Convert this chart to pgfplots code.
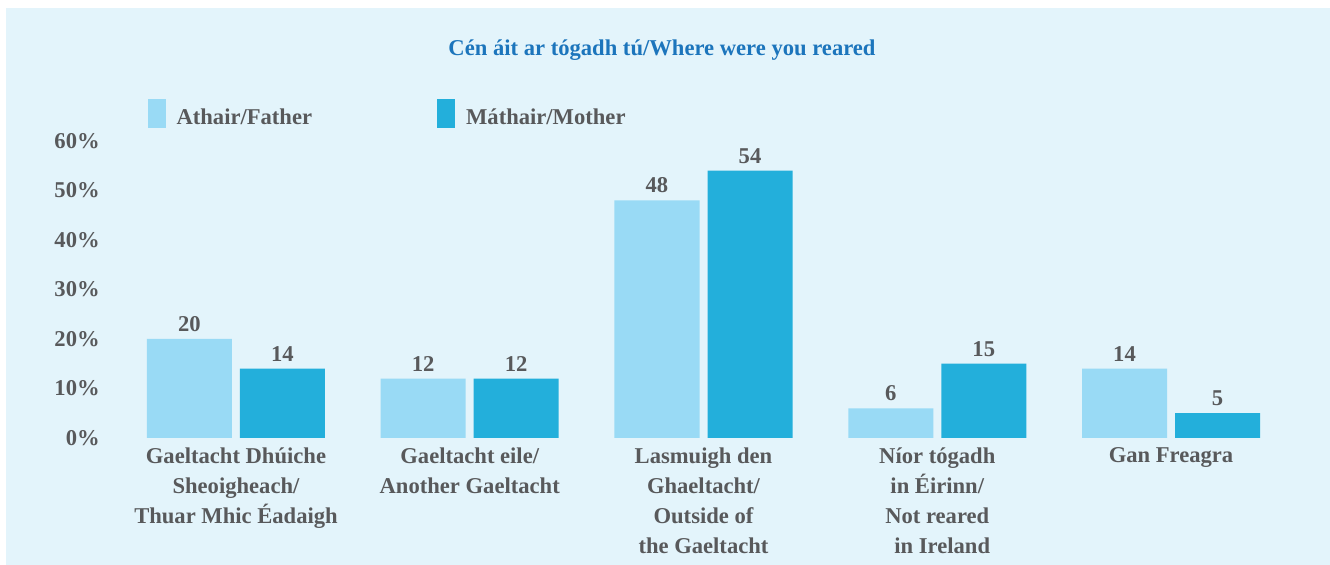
\documentclass[border=0pt]{standalone}
\usepackage{fontspec}
\setmainfont{Liberation Serif}
\usepackage{pgfplots}
\pgfplotsset{compat=1.18}
\definecolor{bg}{HTML}{E3F4FB}
\definecolor{light}{HTML}{99DAF5}
\definecolor{dark}{HTML}{23AFDB}
\definecolor{txt}{HTML}{58595B}
\definecolor{ttl}{HTML}{1C75BC}
\newcommand\cf{\fontsize{11.3}{15}\selectfont\bfseries}
\begin{document}
\begin{tikzpicture}[x=1pt,y=1pt]
\fill[white] (0,0) rectangle (665,282.5);
\fill[bg] (3,0) rectangle (665,278.5);
\node[font=\cf, text=ttl] at (331,257.5) {Cén áit ar tógadh tú/Where were you reared};
\begin{axis}[
  at={(59.55pt,63.5pt)}, anchor=south west,
  scale only axis, width=584.4pt, height=148.5pt,
  xmin=-0.5, xmax=4.5, ymin=0, ymax=60,
  axis line style={draw=none}, major tick length=0pt,
  /pgf/number format/assume math mode=true,
  ytick={0,10,...,60}, yticklabels={0\%,10\%,20\%,30\%,40\%,50\%,60\%},
  xtick={0,...,4},
  xticklabels={{Gaeltacht Dhúiche\\Sheoigheach/\\Thuar Mhic Éadaigh},
               {Gaeltacht eile/\\Another Gaeltacht},
               {Lasmuigh den\\Ghaeltacht/\\Outside of\\the Gaeltacht},
               {Níor tógadh\\in Éirinn/\\Not reared\\\hspace*{5pt}in Ireland},
               {Gan Freagra}},
  tick label style={font=\cf, text=txt, inner sep=0pt},
  yticklabel style={anchor=east, xshift=-9.5pt},
  xticklabel style={anchor=north, align=center, yshift=-4.5pt},
  ybar, bar width=42.5pt,
  nodes near coords,
  every node near coord/.append style={font=\cf, text=txt, inner sep=0pt, anchor=south, yshift=3.5pt},
  legend style={at={(0.024,1.086)}, anchor=west, draw=none, fill=none, inner sep=0pt,
    font=\cf, text=txt, legend columns=2,
    /tikz/every odd column/.append style={column sep=3.5pt},
    /tikz/every even column/.append style={column sep=60.5pt}},
  legend cell align=left,
]
\addplot[fill=light, draw=none, bar shift=-23.25pt,
  legend image code/.code={\fill[light] (0pt,-4.75pt) rectangle (9pt,9.75pt);}]
  coordinates {(0,20) (1,12) (2,48) (3,6) (4,14)};
\addplot[fill=dark, draw=none, bar shift=23.25pt,
  legend image code/.code={\fill[dark] (0pt,-4.75pt) rectangle (9pt,9.75pt);}]
  coordinates {(0,14) (1,12) (2,54) (3,15) (4,5)};
\legend{Athair/Father, Máthair/Mother}
\end{axis}
\pgfresetboundingbox
\useasboundingbox (0,0) rectangle (665,282.5);
\end{tikzpicture}
\end{document}
